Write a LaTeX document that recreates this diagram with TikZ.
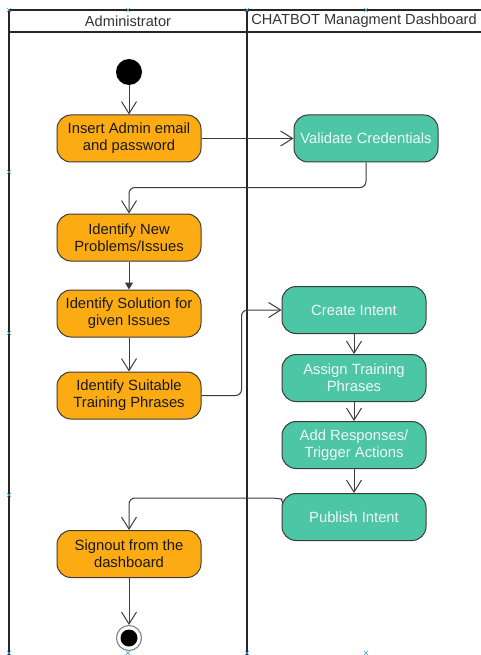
\documentclass[tikz,border=0pt]{standalone}
\usepackage{fontspec}
\setmainfont{Liberation Sans}
\usetikzlibrary{arrows.meta}

\definecolor{actorange}{HTML}{FDAB12}
\definecolor{actteal}{HTML}{4DC6A5}
\definecolor{edgegray}{HTML}{3C3C3C}
\definecolor{lanegray}{HTML}{262626}
\definecolor{handleblue}{HTML}{3AA0DA}

\tikzset{
  act/.style={rectangle, rounded corners=14pt, draw=edgegray, line width=1pt,
    minimum width=144pt, minimum height=47pt, align=center, inner sep=0pt,
    font=\fontsize{14.8}{16.8}\selectfont},
  adminact/.style={act, fill=actorange, text=black!90},
  botact/.style={act, fill=actteal, text=white!94!teal},
  flow/.style={draw=edgegray, line width=1pt,
    -{Straight Barb[length=12pt,width=15pt,line width=1pt]}},
  solidflow/.style={draw=edgegray, line width=1pt,
    -{Triangle[length=7pt,width=8pt]}},
  lane/.style={draw=lanegray, line width=1.8pt},
  lanehead/.style={font=\fontsize{14.6}{16}\selectfont, text=black!80},
  handle/.style={draw=handleblue, line width=0.6pt}
}

\begin{document}
\begin{tikzpicture}[x=1pt,y=-1pt]
  \useasboundingbox (0,0) rectangle (481,655);

  % swimlanes
  \draw[lane] (9,655) -- (9,10) -- (481,10);
  \draw[lane] (9,32) -- (481,32);
  \draw[lane] (247,10) -- (247,655);
  \node[lanehead] (hadmin) at (128,21) {Administrator};
  \node[lanehead] (hbot) at (364,21) {CHATBOT Managment Dashboard};

  % selection handles along the lane frame
  \foreach \hx/\hy in {9/10,128/10,247/10,366/10,9/172,9/333,9/495,
                       9/653,128/653,247/653,366/653}{
    \draw[handle] (\hx-2,\hy-2) -- (\hx+2,\hy+2) (\hx-2,\hy+2) -- (\hx+2,\hy-2);
  }

  % initial and final states
  \node[circle, fill=black, minimum size=26pt, inner sep=0pt] (start) at (129,72) {};
  \node[circle, draw=edgegray!60, line width=1.2pt, fill=white,
        minimum size=25pt, inner sep=0pt] (finish) at (129,638) {};
  \node[circle, fill=black, minimum size=17pt, inner sep=0pt] (finishdot) at (finish) {};

  % administrator actions
  \node[adminact] (login)   at (129,138.5) {Insert Admin email\\and password};
  \node[adminact] (newprob) at (129,237.5) {Identify New\\Problems/Issues};
  \node[adminact] (solve)   at (129,313.5) {Identify Solution for\\given Issues};
  \node[adminact] (phrases) at (129,395.5) {Identify Suitable\\Training Phrases};
  \node[adminact] (signout) at (129,554)   {Signout from the\\dashboard};

  % dashboard actions
  \node[botact] (validate) at (366,138.5) {Validate Credentials};
  \node[botact] (create)   at (354,310)   {Create Intent};
  \node[botact] (assign)   at (354,378)   {Assign Training\\Phrases};
  \node[botact] (respond)  at (354,445)   {Add Responses/\\Trigger Actions};
  \node[botact] (publish)  at (354,517)   {Publish Intent};

  % control flow
  \draw[flow] (start) -- (login);
  \draw[flow] (login) -- (validate);
  \draw[flow, rounded corners=6pt] (validate.south) -- ++(0,25) -| (newprob.north);
  \draw[solidflow] (newprob) -- (solve);
  \draw[flow] (solve) -- (phrases);
  \draw[flow, rounded corners=6pt] (phrases.east) -- ++(40,0) |- (create.west);
  \draw[flow] (create) -- (assign);
  \draw[flow] (assign) -- (respond);
  \draw[flow] (respond) -- (publish);
  \coordinate (pubexit) at (283,503);
  \draw[flow, rounded corners=6pt] (pubexit) .. controls (281,499) .. (276,498)
        -| (signout.north);
  \draw[flow] (signout) -- (finish);
\end{tikzpicture}
\end{document}
